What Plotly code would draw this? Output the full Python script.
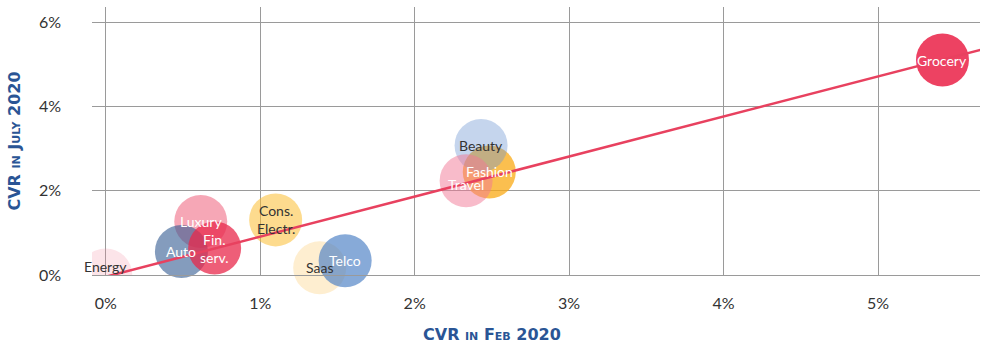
import numpy as np
import plotly.graph_objects as go

# Conversion rate by industry: February 2020 vs July 2020 (in %)
industries = ["Energy", "Saas", "Telco", "Cons.<br>Electr.", "Luxury", "Auto",
              "Fin.<br>serv.", "Fashion", "Beauty", "Travel", "Grocery"]
cvr_feb = [0.00, 1.385, 1.55, 1.10, 0.615, 0.49, 0.705, 2.483, 2.43, 2.333, 5.417]
cvr_july = [0.00, 0.17, 0.34, 1.31, 1.27, 0.56, 0.64, 2.45, 3.08, 2.24, 5.11]

x_ticks = [0, 1, 2, 3, 4, 5]
y_ticks = [0, 2, 4, 6]

# bubble fills and label colours, one per industry
fills = {
    "Energy": "rgba(240,130,155,0.22)",
    "Saas": "rgba(252,205,120,0.35)",
    "Telco": "rgba(70,125,195,0.65)",
    "Cons.<br>Electr.": "rgba(252,190,50,0.55)",
    "Luxury": "rgba(238,80,110,0.5)",
    "Auto": "rgba(50,90,145,0.6)",
    "Fin.<br>serv.": "rgba(232,40,75,0.75)",
    "Fashion": "rgba(250,170,20,0.75)",
    "Beauty": "rgba(110,150,210,0.4)",
    "Travel": "rgba(242,120,150,0.5)",
    "Grocery": "rgba(236,50,85,0.92)",
}
dark_labels = {"Energy", "Saas", "Cons.<br>Electr.", "Beauty"}
label_nudge = {"Energy": 9, "Travel": -4}

FONT = "Lato"
TITLE_FONT = "DejaVu Sans"
BLUE = "#2a5595"
GRID = "#9a9a9a"

fig = go.Figure()

# the bubble sitting on the origin is cut by the plot edge
first = [i for i, n in enumerate(industries) if n == "Energy"]
rest = [i for i, n in enumerate(industries) if n != "Energy"]

fig.add_trace(go.Scatter(
    x=[cvr_feb[i] for i in first], y=[cvr_july[i] for i in first],
    mode="markers", cliponaxis=True, hoverinfo="skip",
    marker=dict(size=53, color=[fills[industries[i]] for i in first], line=dict(width=0)),
))
fig.add_trace(go.Scatter(
    x=[cvr_feb[i] for i in rest], y=[cvr_july[i] for i in rest],
    mode="markers", cliponaxis=False,
    marker=dict(size=53, color=[fills[industries[i]] for i in rest], line=dict(width=0)),
))

# least-squares trend line
slope, intercept = np.polyfit(cvr_feb, cvr_july, 1)
trend_x = np.array([0.0, 5.70])
fig.add_trace(go.Scatter(
    x=trend_x, y=slope * trend_x + intercept, mode="lines", cliponaxis=False,
    line=dict(color="#e8415f", width=2.5), hoverinfo="skip",
))

for name, xv, yv in zip(industries, cvr_feb, cvr_july):
    fig.add_annotation(
        x=xv, y=yv, text=name, showarrow=False, xanchor="center", yanchor="middle",
        yshift=label_nudge.get(name, 0),
        font=dict(family=FONT, size=14,
                  color="#333333" if name in dark_labels else "#ffffff"),
    )

fig.add_annotation(
    xref="paper", yref="paper", x=(491.5 - 92) / 888, y=-59 / 268,
    text="CVR in Feb 2020", showarrow=False, xanchor="center", yanchor="middle",
    font=dict(family=TITLE_FONT, size=16, color=BLUE, weight="bold", variant="small-caps"),
)

fig.update_layout(
    width=994, height=345,
    margin=dict(l=92, r=14, t=7, b=70),
    paper_bgcolor="white", plot_bgcolor="white",
    showlegend=False,
    font=dict(family=FONT, size=15, color="#333333"),
)
fig.update_xaxes(
    range=[-0.089, 5.66], tickvals=x_ticks, ticktext=[f"{v}%" for v in x_ticks],
    showgrid=True, gridcolor=GRID, gridwidth=1, zeroline=False,
    showline=True, linecolor=GRID, linewidth=1, automargin=False,
    ticks="", ticklabelstandoff=14,
    tickfont=dict(family=FONT, size=16, color="#333333"),
)
fig.update_yaxes(
    range=[0, 6.37], tickvals=y_ticks, ticktext=[f"{v}%" for v in y_ticks],
    showgrid=True, gridcolor=GRID, gridwidth=1, zeroline=False, automargin=False,
    ticks="", ticklabelstandoff=30,
    tickfont=dict(family=FONT, size=16, color="#333333"),
    title=dict(text="CVR in July 2020", standoff=14,
               font=dict(family=TITLE_FONT, size=16, color=BLUE, weight="bold", variant="small-caps")),
)

fig.write_html("out.html")
